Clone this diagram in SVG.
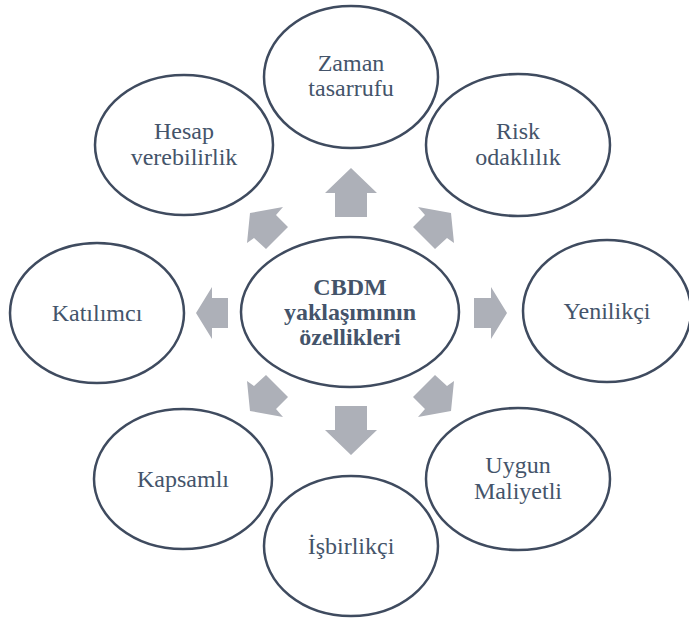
<svg xmlns="http://www.w3.org/2000/svg" width="689" height="618" viewBox="0 0 689 618">
<style>
.n{fill:#ffffff;stroke:#3f4b5f;stroke-width:2.5}
.t{font-family:"Liberation Serif","Times New Roman",serif;font-size:24px;fill:#44546a;text-anchor:middle}
.b{font-weight:bold}
.a{fill:#adb0b8}
</style>
<rect width="689" height="618" fill="#ffffff"/>
<g id="connectors">
<polygon class="a" points="351,168 377,193 367,193 367,217 335,217 335,193 325,193"/>
<polygon class="a" points="351,455 377,430 367,430 367,406 335,406 335,430 325,430"/>
<polygon class="a" points="196,313 212,287 212,298 228,298 228,328 212,328 212,339"/>
<polygon class="a" points="507,313 491,287 491,298 474,298 474,328 491,328 491,339"/>
<polygon class="a" points="250,213 283,207 276,215 288,227 266,249 254,238 247,243"/>
<polygon class="a" points="451,213 418,207 425,215 413,227 435,249 447,238 454,243"/>
<polygon class="a" points="250,411 283,417 276,409 288,397 266,375 254,386 247,381"/>
<polygon class="a" points="451,411 418,417 425,409 413,397 435,375 447,386 454,381"/>
</g>
<g id="zaman"><ellipse class="n" cx="351" cy="77" rx="87" ry="71"/><text class="t" x="351" y="71">Zaman</text><text class="t" x="351" y="96">tasarrufu</text></g>
<g id="hesap"><ellipse class="n" cx="184" cy="145" rx="89" ry="70"/><text class="t" x="184" y="139">Hesap</text><text class="t" x="184" y="165">verebilirlik</text></g>
<g id="risk"><ellipse class="n" cx="518" cy="145" rx="92" ry="71"/><text class="t" x="518" y="139">Risk</text><text class="t" x="518" y="165">odaklılık</text></g>
<g id="katilimci"><ellipse class="n" cx="97" cy="313" rx="87" ry="70"/><text class="t" x="97" y="321">Katılımcı</text></g>
<g id="yenilikci"><ellipse class="n" cx="607" cy="311" rx="84" ry="71"/><text class="t" x="607" y="319">Yenilikçi</text></g>
<g id="merkez"><ellipse class="n" cx="350" cy="312" rx="109" ry="75"/><text class="t b" x="350" y="295">CBDM</text><text class="t b" x="350" y="320">yaklaşımının</text><text class="t b" x="350" y="345">özellikleri</text></g>
<g id="kapsamli"><ellipse class="n" cx="183" cy="479" rx="89" ry="70"/><text class="t" x="183" y="487">Kapsamlı</text></g>
<g id="uygun"><ellipse class="n" cx="518" cy="479" rx="92" ry="71"/><text class="t" x="518" y="473">Uygun</text><text class="t" x="518" y="499">Maliyetli</text></g>
<g id="isbirlikci"><ellipse class="n" cx="351" cy="546" rx="87" ry="70"/><text class="t" x="351" y="554">İşbirlikçi</text></g>
</svg>
